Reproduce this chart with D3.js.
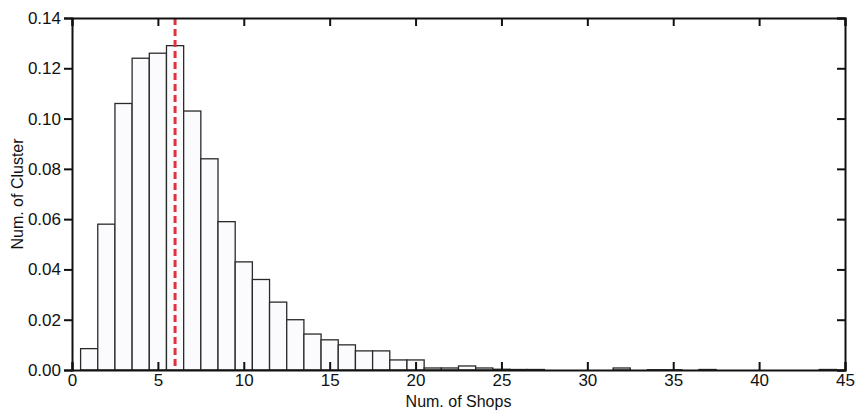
<!DOCTYPE html>
<html>
<head>
<meta charset="utf-8">
<script src="https://cdn.jsdelivr.net/npm/d3@7"></script>
<style>
  body { margin: 0; background: #fff; }
  svg { font-family: "Liberation Sans", Arial, sans-serif; }
  .axis path, .axis line { stroke: #111; stroke-width: 2; }
  .axis text { font-size: 17px; fill: #111; }
</style>
</head>
<body>
<svg id="chart" width="862" height="415"></svg>
<script>
// histogram: number of shops per cluster (bin centre) and fraction
var shops = [1, 2, 3, 4, 5, 6, 7, 8, 9, 10, 11, 12, 13, 14, 15, 16, 17, 18, 19, 20,
             21, 22, 23, 24, 25, 26, 27, 32, 34, 35, 37, 44];
var fraction = [0.0085, 0.058, 0.106, 0.124, 0.126, 0.129, 0.103, 0.084, 0.059, 0.043,
                0.036, 0.027, 0.020, 0.0143, 0.012, 0.010, 0.0076, 0.0076, 0.004, 0.004,
                0.0008, 0.0008, 0.0016, 0.0008, 0.0003, 0.0002, 0.0002, 0.0008, 0.0001, 0.0001,
                0.0002, 0.0002];
var meanShops = 6;
var xTicks = [0, 5, 10, 15, 20, 25, 30, 35, 40, 45];
var yTicks = [0, 0.02, 0.04, 0.06, 0.08, 0.10, 0.12, 0.14];

var svg = d3.select("#chart");
var margin = {top: 18, right: 17, bottom: 45, left: 72};
var width  = 862 - margin.left - margin.right;
var height = 415 - margin.top - margin.bottom;

var g = svg.append("g")
  .attr("transform", "translate(" + margin.left + "," + margin.top + ")");

var x = d3.scaleLinear().domain([0, 45]).range([0, width]);
var y = d3.scaleLinear().domain([0, 0.14]).range([height, 0]);

var data = shops.map(function (s, i) { return {s: s, v: fraction[i]}; });

// bars
g.selectAll("rect.bar")
  .data(data)
  .enter().append("rect")
  .attr("class", "bar")
  .attr("x", function (d) { return x(d.s - 0.5); })
  .attr("y", function (d) { return y(d.v); })
  .attr("width", function (d) { return x(d.s + 0.5) - x(d.s - 0.5); })
  .attr("height", function (d) { return height - y(d.v); })
  .attr("fill", "#fbfbfd")
  .attr("stroke", "#2a2a2a")
  .attr("stroke-width", 1.3);

// mean line
g.append("line")
  .attr("x1", x(meanShops)).attr("x2", x(meanShops))
  .attr("y1", 0).attr("y2", height)
  .attr("stroke", "#e0323c")
  .attr("stroke-width", 3)
  .attr("stroke-dasharray", "7,4");

// axes, ticks inward, mirrored on top/right
g.append("g")
  .attr("class", "axis")
  .attr("transform", "translate(0," + height + ")")
  .call(d3.axisBottom(x).tickValues(xTicks).tickSize(-8).tickPadding(4).tickFormat(d3.format("d")));

g.append("g")
  .attr("class", "axis")
  .call(d3.axisLeft(y).tickValues(yTicks).tickSize(8).tickPadding(3).tickFormat(d3.format(".2f")));

g.append("g")
  .attr("class", "axis")
  .call(d3.axisTop(x).tickValues(xTicks).tickSize(-8).tickFormat(""));

g.append("g")
  .attr("class", "axis")
  .attr("transform", "translate(" + width + ",0)")
  .call(d3.axisRight(y).tickValues(yTicks).tickSize(-8).tickFormat(""));

// labels
svg.append("text")
  .attr("x", margin.left + width / 2)
  .attr("y", 407)
  .attr("text-anchor", "middle")
  .style("font-size", "16px")
  .attr("fill", "#111")
  .text("Num. of Shops");

svg.append("text")
  .attr("transform", "translate(23," + (margin.top + height / 2) + ") rotate(-90)")
  .attr("text-anchor", "middle")
  .style("font-size", "16px")
  .attr("fill", "#111")
  .text("Num. of Cluster");
</script>
</body>
</html>
